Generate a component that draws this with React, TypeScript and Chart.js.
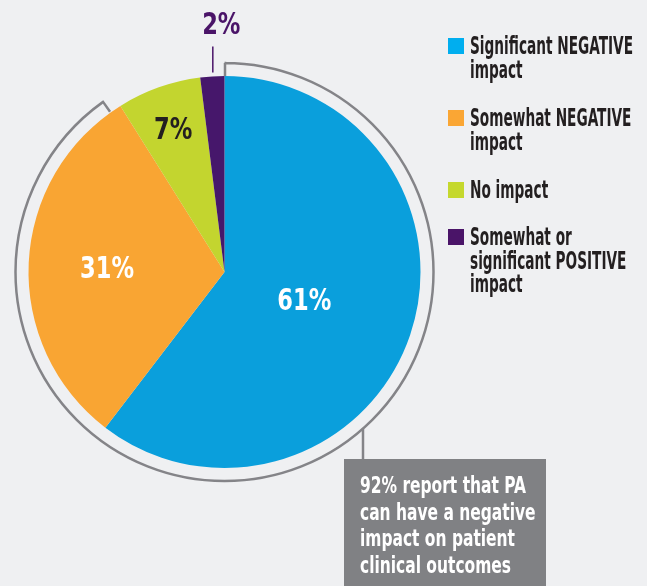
import React, { useEffect, useRef } from "react";
import { Chart, registerables } from "chart.js";

Chart.register(...registerables);

// ---------- data ----------
const categories: string[][] = [
  ["Significant NEGATIVE", "impact"],
  ["Somewhat NEGATIVE", "impact"],
  ["No impact"],
  ["Somewhat or", "significant POSITIVE", "impact"],
];
const values = [61, 31, 7, 2];
const valueLabels = ["61%", "31%", "7%", "2%"];
const calloutLines = [
  "92% report that PA",
  "can have a negative",
  "impact on patient",
  "clinical outcomes",
];
const bracketGroup = [0, 1]; // slices covered by the callout bracket

// ---------- styles ----------
const W = 647;
const H = 586;
const BG = "#eff0f2";
const SLICE_COLORS = ["#0a9fdc", "#f9a533", "#c3d52f", "#46176b"];
const LEGEND_COLORS = ["#00aeef", "#faa634", "#c5d82e", "#4a1468"];
const LABEL_COLORS = ["#ffffff", "#ffffff", "#231f20", "#4a1468"];
const LABEL_RADIUS = [0.43, 0.6, 0.78, -1]; // -1 => outside with leader
const FONT = "'Liberation Sans Narrow', 'DejaVu Sans Condensed', 'Liberation Sans', sans-serif";
const GRAY = "#848488";
const BOX_COLOR = "#808184";

function condensed(
  ctx: CanvasRenderingContext2D,
  text: string,
  x: number,
  y: number,
  sx: number,
  align: CanvasTextAlign
) {
  ctx.save();
  ctx.translate(x, y);
  ctx.scale(sx, 1);
  ctx.textAlign = align;
  ctx.fillText(text, 0, 0);
  ctx.restore();
}

function scaleFor(ctx: CanvasRenderingContext2D, font: string, ref: string, target: number) {
  ctx.font = font;
  const w = ctx.measureText(ref).width;
  return w > 0 ? target / w : 1;
}

const decorPlugin = {
  id: "decor",
  beforeDraw(chart: any) {
    const ctx = chart.ctx as CanvasRenderingContext2D;
    ctx.save();
    ctx.fillStyle = BG;
    ctx.fillRect(0, 0, chart.width, chart.height);
    ctx.restore();
  },
  afterDraw(chart: any) {
    const ctx = chart.ctx as CanvasRenderingContext2D;
    const arcs = chart.getDatasetMeta(0).data as any[];
    const cx = arcs[0].x;
    const cy = arcs[0].y;
    const R = arcs[0].outerRadius;

    // ----- value labels -----
    const lblFont = `bold 31px ${FONT}`;
    const lsx = scaleFor(ctx, lblFont, "61%", 54);
    ctx.save();
    ctx.font = lblFont;
    ctx.textBaseline = "alphabetic";
    arcs.forEach((a, i) => {
      const mid = (a.startAngle + a.endAngle) / 2;
      ctx.fillStyle = LABEL_COLORS[i];
      if (LABEL_RADIUS[i] > 0) {
        const r = R * LABEL_RADIUS[i];
        condensed(ctx, valueLabels[i], cx + r * Math.cos(mid), cy + r * Math.sin(mid) + 11, lsx, "center");
      } else {
        const lx = cx + R * Math.cos(mid);
        const edgeY = cy + R * Math.sin(mid);
        ctx.strokeStyle = LABEL_COLORS[i];
        ctx.lineWidth = 1.5;
        ctx.beginPath();
        ctx.moveTo(lx + 0.5, edgeY - 4);
        ctx.lineTo(lx + 0.5, edgeY - 30);
        ctx.stroke();
        condensed(ctx, valueLabels[i], lx + 9, edgeY - 42, lsx, "center");
      }
    });
    ctx.restore();

    // ----- bracket around slices -----
    const first = arcs[bracketGroup[0]];
    const last = arcs[bracketGroup[bracketGroup.length - 1]];
    const RB = R + 13;
    const a0 = first.startAngle;
    const a1 = last.endAngle - 0.06;
    ctx.save();
    ctx.strokeStyle = GRAY;
    ctx.lineWidth = 2.5;
    ctx.lineJoin = "miter";
    ctx.beginPath();
    ctx.moveTo(cx + R * Math.cos(a0) + 0.5, cy + R * Math.sin(a0));
    ctx.lineTo(cx + RB * Math.cos(a0) + 0.5, cy + RB * Math.sin(a0));
    ctx.arc(cx, cy, RB, a0, a1, false);
    ctx.lineTo(cx + (R + 1) * Math.cos(a1), cy + (R + 1) * Math.sin(a1));
    ctx.stroke();

    // connector to callout box
    const boxX = 344, boxY = 459, boxW = 202, boxH = 130;
    const connX = 363;
    const dx = connX - cx;
    const connY = cy + Math.sqrt(RB * RB - dx * dx);
    ctx.beginPath();
    ctx.moveTo(connX, connY);
    ctx.lineTo(connX, boxY);
    ctx.stroke();

    // callout box
    ctx.fillStyle = BOX_COLOR;
    ctx.fillRect(boxX, boxY, boxW, boxH);
    const boxFont = `bold 23px ${FONT}`;
    const bsx = scaleFor(ctx, boxFont, calloutLines[0], 166);
    ctx.font = boxFont;
    ctx.fillStyle = "#ffffff";
    ctx.textBaseline = "alphabetic";
    calloutLines.forEach((t, i) => {
      condensed(ctx, t, 360, 493 + i * 26.5, bsx, "left");
    });
    ctx.restore();

    // ----- legend -----
    const legFont = `bold 24px ${FONT}`;
    const gsx = scaleFor(ctx, legFont, categories[0][0], 163);
    const tops = [38, 110, 182, 229];
    ctx.save();
    ctx.font = legFont;
    ctx.textBaseline = "alphabetic";
    categories.forEach((lines, i) => {
      ctx.fillStyle = LEGEND_COLORS[i];
      ctx.fillRect(448, tops[i], 16, 16);
      ctx.fillStyle = "#231f20";
      lines.forEach((t, j) => {
        condensed(ctx, t, 470, tops[i] + 16 + j * 23.7, gsx, "left");
      });
    });
    ctx.restore();
  },
};

export default function App() {
  const ref = useRef<HTMLCanvasElement | null>(null);
  useEffect(() => {
    if (!ref.current) return;
    const chart = new Chart(ref.current, {
      type: "pie",
      data: {
        labels: categories.map((l) => l.join(" ")),
        datasets: [
          {
            data: values,
            backgroundColor: SLICE_COLORS,
            borderWidth: 0,
          },
        ],
      },
      options: {
        responsive: false,
        animation: false,
        layout: { padding: { left: 28.5, right: 226.5, top: 76, bottom: 118 } },
        plugins: {
          legend: { display: false },
          tooltip: { enabled: false },
        },
      },
      plugins: [decorPlugin],
    });
    return () => chart.destroy();
  }, []);
  return (
    <div style={{ position: "absolute", left: 0, top: 0, width: W, height: H, background: BG }}>
      <canvas ref={ref} width={W} height={H} style={{ width: W, height: H, display: "block" }} />
    </div>
  );
}
